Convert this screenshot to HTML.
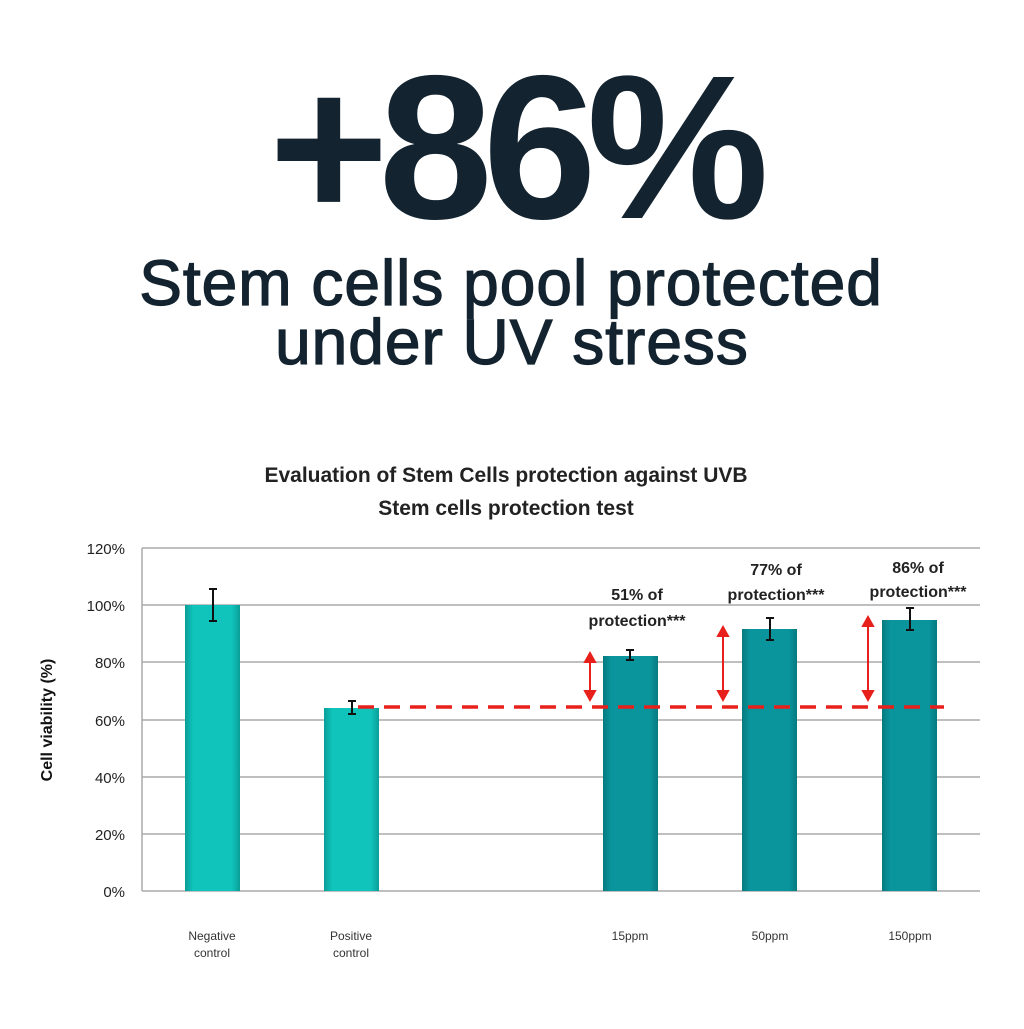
<!DOCTYPE html>
<html><head><style>
body{margin:0;background:#fff;width:1024px;height:1024px;overflow:hidden;font-family:"Liberation Sans",sans-serif}
</style></head><body>
<svg width="1024" height="1024" viewBox="0 0 1024 1024" xmlns="http://www.w3.org/2000/svg">
<defs>
<linearGradient id="g1" x1="0" x2="1"><stop offset="0" stop-color="#0a9e98"/><stop offset="0.15" stop-color="#10c4bb"/><stop offset="0.85" stop-color="#10c4bb"/><stop offset="1" stop-color="#0a9e98"/></linearGradient>
<linearGradient id="g2" x1="0" x2="1"><stop offset="0" stop-color="#067a80"/><stop offset="0.15" stop-color="#0a959c"/><stop offset="0.85" stop-color="#0a959c"/><stop offset="1" stop-color="#067a80"/></linearGradient>
</defs>
<g fill="#13232f" font-family="Liberation Sans, sans-serif">
<text x="514" y="218" font-size="205" font-weight="bold" text-anchor="middle" letter-spacing="-10">+86%</text>
<g stroke="#13232f" stroke-width="1.3">
<text x="511" y="305" font-size="64" text-anchor="middle" letter-spacing="1">Stem cells pool protected</text>
<text x="512" y="364" font-size="64" text-anchor="middle" letter-spacing="1">under UV stress</text>
</g>
</g>
<g font-weight="bold" fill="#222" font-size="21" text-anchor="middle">
<text x="506" y="482">Evaluation of Stem Cells protection against UVB</text>
<text x="506" y="515">Stem cells protection test</text>
</g>
<g stroke="#aaa" stroke-width="1.5">
<line x1="142" y1="548" x2="980" y2="548"/>
<line x1="142" y1="605" x2="980" y2="605"/>
<line x1="142" y1="662" x2="980" y2="662"/>
<line x1="142" y1="720" x2="980" y2="720"/>
<line x1="142" y1="777" x2="980" y2="777"/>
<line x1="142" y1="834" x2="980" y2="834"/>
<line x1="142" y1="891" x2="980" y2="891"/>
<line x1="142" y1="548" x2="142" y2="891"/>
</g>
<g font-size="15" fill="#222" text-anchor="end">
<text x="125" y="554">120%</text><text x="125" y="611">100%</text><text x="125" y="668">80%</text>
<text x="125" y="726">60%</text><text x="125" y="783">40%</text><text x="125" y="840">20%</text><text x="125" y="897">0%</text>
</g>
<text transform="translate(52,720) rotate(-90)" font-size="16" font-weight="bold" text-anchor="middle" fill="#111">Cell viability (%)</text>
<rect x="185" y="605" width="55" height="286" fill="url(#g1)"/>
<rect x="324" y="708" width="55" height="183" fill="url(#g1)"/>
<rect x="603" y="656" width="55" height="235" fill="url(#g2)"/>
<rect x="742" y="629" width="55" height="262" fill="url(#g2)"/>
<rect x="882" y="620" width="55" height="271" fill="url(#g2)"/>
<g stroke="#111" stroke-width="2">
<path d="M213 589V621M209 589h8M209 621h8"/>
<path d="M352 701V714M348 701h8M348 714h8"/>
<path d="M630 650V660M626 650h8M626 660h8"/>
<path d="M770 618V640M766 618h8M766 640h8"/>
<path d="M910 608V630M906 608h8M906 630h8"/>
</g>
<line x1="358" y1="707" x2="944" y2="707" stroke="#e8201c" stroke-width="3.5" stroke-dasharray="16,10"/>
<g stroke="#e8201c" stroke-width="2" fill="#e8201c">
<line x1="590" y1="660" x2="590" y2="693"/><path d="M585 662l5-9 5 9z"/><path d="M585 691l5 9 5-9z"/>
<line x1="723" y1="634" x2="723" y2="693"/><path d="M718 636l5-9 5 9z"/><path d="M718 691l5 9 5-9z"/>
<line x1="868" y1="624" x2="868" y2="693"/><path d="M863 626l5-9 5 9z"/><path d="M863 691l5 9 5-9z"/>
</g>
<g font-size="16" font-weight="bold" fill="#222" text-anchor="middle">
<text x="637" y="600">51% of</text><text x="637" y="626">protection***</text>
<text x="776" y="575">77% of</text><text x="776" y="600">protection***</text>
<text x="918" y="573">86% of</text><text x="918" y="597">protection***</text>
</g>
<g font-size="12" fill="#333" text-anchor="middle">
<text x="212" y="940">Negative</text><text x="212" y="957">control</text>
<text x="351" y="940">Positive</text><text x="351" y="957">control</text>
<text x="630" y="940">15ppm</text><text x="770" y="940">50ppm</text><text x="910" y="940">150ppm</text>
</g>
</svg>
</body></html>
